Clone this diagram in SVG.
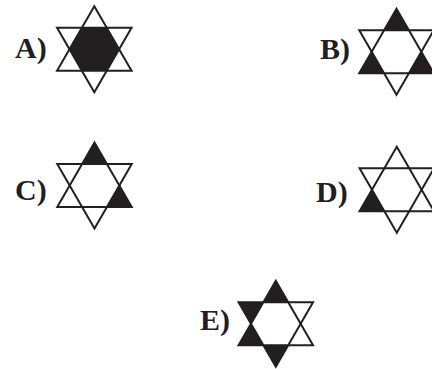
<svg xmlns="http://www.w3.org/2000/svg" xmlns:xlink="http://www.w3.org/1999/xlink" width="432" height="369" viewBox="0 0 432 369">
<style>
.lbl{font-family:"Liberation Serif","Times New Roman",serif;font-weight:bold;font-size:30px;fill:#231f20}
.ol{fill:none;stroke:#231f20;stroke-width:2;stroke-linejoin:miter}
.f{fill:#231f20}
</style>
<defs>
<g id="outline">
<path class="ol" d="M0,-43 L37.24,21.5 L-37.24,21.5 Z"/>
<path class="ol" d="M0,43 L37.24,-21.5 L-37.24,-21.5 Z"/>
</g>
<path id="hex" class="f" d="M24.83,0 L12.41,-21.5 L-12.41,-21.5 L-24.83,0 L-12.41,21.5 L12.41,21.5 Z"/>
<path id="tTop" class="f" d="M0,-43 L12.41,-21.5 L-12.41,-21.5 Z"/>
<path id="tUL" class="f" d="M-37.24,-21.5 L-12.41,-21.5 L-24.83,0 Z"/>
<path id="tLL" class="f" d="M-37.24,21.5 L-24.83,0 L-12.41,21.5 Z"/>
<path id="tBot" class="f" d="M0,43 L-12.41,21.5 L12.41,21.5 Z"/>
<path id="tLR" class="f" d="M37.24,21.5 L12.41,21.5 L24.83,0 Z"/>
</defs>
<g id="optionA">
<text class="lbl" x="15" y="57.5">A)</text>
<g transform="translate(94.3,49.2)">
<use href="#hex"/>
<use href="#outline"/>
</g>
</g>
<g id="optionB">
<text class="lbl" x="320" y="58.5">B)</text>
<g transform="translate(396.5,51.7)">
<use href="#tTop"/><use href="#tLL"/><use href="#tLR"/>
<use href="#outline"/>
</g>
</g>
<g id="optionC">
<text class="lbl" x="15" y="200">C)</text>
<g transform="translate(94.5,185.5)">
<use href="#tTop"/><use href="#tLR"/>
<use href="#outline"/>
</g>
</g>
<g id="optionD">
<text class="lbl" x="316" y="201.5">D)</text>
<g transform="translate(396.8,189.7)">
<use href="#tLL"/>
<use href="#outline"/>
</g>
</g>
<g id="optionE">
<text class="lbl" x="200" y="330">E)</text>
<g transform="translate(275.8,323.7)">
<use href="#tTop"/><use href="#tUL"/><use href="#tLL"/><use href="#tBot"/>
<use href="#outline"/>
</g>
</g>
<g id="connectors"/>
</svg>
